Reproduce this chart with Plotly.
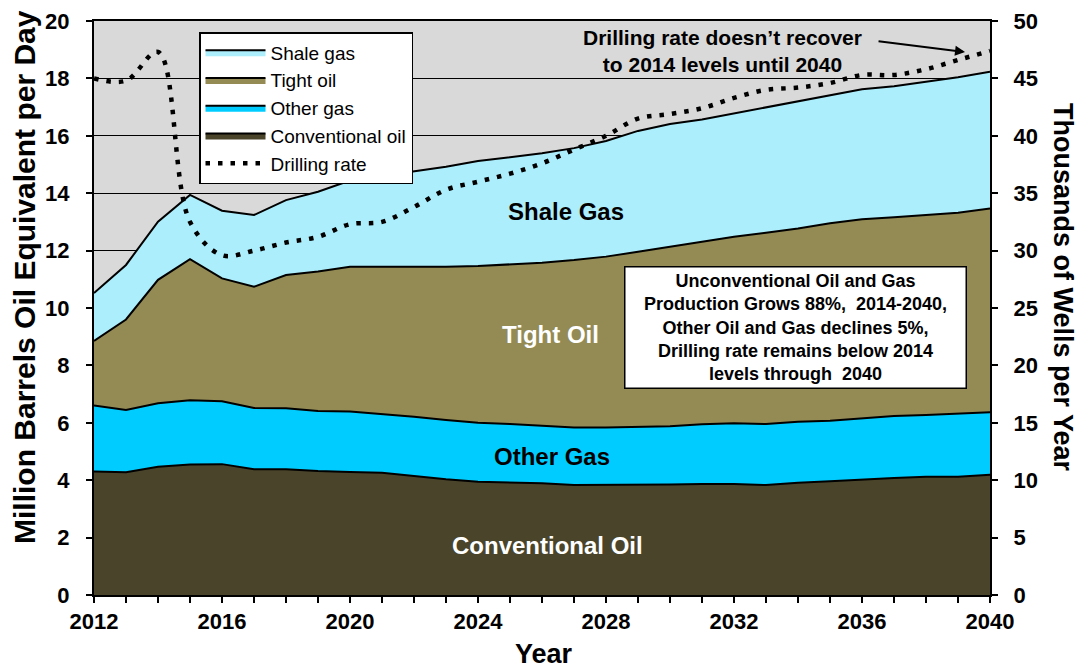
import plotly.graph_objects as go

years = list(range(2012, 2041))

conventional_oil = [4.30, 4.28, 4.47, 4.55, 4.56, 4.38, 4.38, 4.32, 4.29, 4.26, 4.15, 4.03, 3.95, 3.93, 3.89,
                    3.83, 3.83, 3.84, 3.85, 3.87, 3.87, 3.83, 3.91, 3.96, 4.03, 4.08, 4.12, 4.12, 4.19]
other_gas = [2.30, 2.17, 2.21, 2.24, 2.19, 2.14, 2.13, 2.09, 2.10, 2.05, 2.06, 2.07, 2.05, 2.03, 2.01,
             2.01, 2.01, 2.02, 2.03, 2.08, 2.11, 2.13, 2.13, 2.11, 2.12, 2.16, 2.15, 2.19, 2.18]
tight_oil = [2.25, 3.15, 4.30, 4.91, 4.28, 4.22, 4.64, 4.86, 5.05, 5.13, 5.21, 5.34, 5.46, 5.56, 5.68,
             5.83, 5.95, 6.10, 6.26, 6.36, 6.50, 6.66, 6.73, 6.88, 6.94, 6.92, 6.97, 7.01, 7.10]
shale_gas = [1.67, 1.90, 2.03, 2.24, 2.36, 2.50, 2.61, 2.78, 3.00, 3.16, 3.33, 3.48, 3.66, 3.73, 3.81,
             3.90, 4.03, 4.21, 4.27, 4.26, 4.30, 4.39, 4.45, 4.47, 4.53, 4.57, 4.64, 4.72, 4.76]
drilling_rate = [45.0, 44.8, 47.3, 32.5, 29.6, 30.0, 30.7, 31.2, 32.3, 32.5, 33.8, 35.3, 36.0, 36.7, 37.6,
                 38.8, 40.0, 41.5, 41.9, 42.4, 43.3, 44.0, 44.2, 44.6, 45.3, 45.3, 45.8, 46.6, 47.4]

x_tick_vals = list(range(2012, 2041, 4))
x_tick_text = [str(v) for v in x_tick_vals]

FONT = "Arial, Liberation Sans, sans-serif"

# plot area in page pixels
PL, PR, PT, PB = 94, 990, 21, 595
PW, PH = PR - PL, PB - PT


def px(xp):
    return (xp - PL) / PW


def py(yp):
    return (PB - yp) / PH


fig = go.Figure()

area_specs = [
    ("Conventional oil", conventional_oil, "#4A442A", 4),
    ("Other gas", other_gas, "#00CCFF", 3),
    ("Tight oil", tight_oil, "#948A54", 2),
    ("Shale gas", shale_gas, "#ADEEFC", 1),
]
for name, vals, color, rank in area_specs:
    fig.add_trace(go.Scatter(
        x=years, y=vals, name=name, stackgroup="one", mode="lines",
        line=dict(color="black", width=2), fillcolor=color, legendrank=rank,
        hoverinfo="x+y+name",
    ))

fig.add_trace(go.Scatter(
    x=years, y=drilling_rate, name="Drilling rate", mode="lines", yaxis="y2",
    line=dict(color="black", width=4.5, dash="4.5px,8px", shape="spline", smoothing=1.0),
    legendrank=5,
))

annotations = [
    dict(text="<b>Million Barrels Oil Equivalent per Day</b>", xref="paper", yref="paper",
         x=px(24), y=py(277), textangle=-90, showarrow=False,
         font=dict(size=30, family=FONT, color="black"), xanchor="center", yanchor="middle"),
    dict(text="<b>Thousands of Wells per Year</b>", xref="paper", yref="paper",
         x=px(1063), y=py(287), textangle=90, showarrow=False,
         font=dict(size=27, family=FONT, color="black"), xanchor="center", yanchor="middle"),
    dict(text="<b>Year</b>", xref="paper", yref="paper",
         x=px(544), y=py(654), showarrow=False,
         font=dict(size=27, family=FONT, color="black"), xanchor="center", yanchor="middle"),
    dict(text="<b>Shale Gas</b>", x=2026.75, y=13.35, showarrow=False,
         font=dict(size=24, family=FONT, color="black"), xanchor="center", yanchor="middle"),
    dict(text="<b>Tight Oil</b>", x=2026.25, y=9.06, showarrow=False,
         font=dict(size=24, family=FONT, color="white"), xanchor="center", yanchor="middle"),
    dict(text="<b>Other Gas</b>", x=2026.3, y=4.84, showarrow=False,
         font=dict(size=24, family=FONT, color="black"), xanchor="center", yanchor="middle"),
    dict(text="<b>Conventional Oil</b>", x=2026.16, y=1.74, showarrow=False,
         font=dict(size=24, family=FONT, color="white"), xanchor="center", yanchor="middle"),
    dict(text="<b>Unconventional Oil and Gas<br>Production Grows 88%,  2014-2040,<br>"
              "Other Oil and Gas declines 5%,<br>Drilling rate remains below 2014<br>levels through  2040</b>",
         xref="paper", yref="paper", x=px(795), y=py(327), xanchor="center", yanchor="middle",
         showarrow=False, align="center", bgcolor="white", bordercolor="black", borderwidth=1.5,
         borderpad=3, width=334, height=114,
         font=dict(size=18, family=FONT, color="black")),
    dict(text="<b>Drilling rate doesn\u2019t recover<br>to 2014 levels until 2040</b>",
         xref="paper", yref="paper", x=px(722), y=py(51), xanchor="center", yanchor="middle",
         showarrow=False, align="center",
         font=dict(size=21, family=FONT, color="black")),
    dict(text="", x=2039.22, y=18.92, xref="x", yref="y", showarrow=True,
         ax=-88, ay=-11, arrowhead=2, arrowsize=1, arrowwidth=2, arrowcolor="black"),
]

fig.update_layout(
    width=1080, height=668,
    margin=dict(l=PL, r=1080 - PR, t=PT, b=668 - PB, autoexpand=False),
    paper_bgcolor="white", plot_bgcolor="#D9D9D9",
    font=dict(family=FONT, color="black"),
    showlegend=True,
    legend=dict(x=px(199), y=py(32), xanchor="left", yanchor="top",
                bgcolor="white", bordercolor="black", borderwidth=1.5, traceorder="normal",
                font=dict(size=19, family=FONT, color="black"), tracegroupgap=0, itemwidth=60),
    xaxis=dict(range=[2012, 2040], tickmode="array", tickvals=x_tick_vals, ticktext=x_tick_text,
               ticks="outside", ticklen=6, tickwidth=1.5, tickcolor="black",
               showline=True, linecolor="black", linewidth=2, mirror=True,
               showgrid=False, zeroline=False,
               tickfont=dict(size=22, family=FONT, color="black", weight="bold"),
               minor=dict(dtick=1, tick0=2012, ticks="outside", ticklen=6, tickwidth=1.5,
                          tickcolor="black", showgrid=False)),
    yaxis=dict(range=[0, 20], dtick=2, ticks="outside", ticklen=6, tickwidth=1.5, tickcolor="black",
               showline=True, linecolor="black", linewidth=2, mirror=True,
               showgrid=True, gridcolor="black", gridwidth=1, zeroline=False,
               ticklabelstandoff=12,
               tickfont=dict(size=22, family=FONT, color="black", weight="bold")),
    yaxis2=dict(range=[0, 50], dtick=5, overlaying="y", side="right",
                ticks="outside", ticklen=6, tickwidth=1.5, tickcolor="black",
                showline=True, linecolor="black", linewidth=2, showgrid=False, zeroline=False,
                ticklabelstandoff=11,
                tickfont=dict(size=22, family=FONT, color="black", weight="bold")),
    annotations=annotations,
)

fig.write_html("out.html", config={"displayModeBar": False},
               post_script="document.body.style.margin='0';document.body.style.overflow='hidden';")
